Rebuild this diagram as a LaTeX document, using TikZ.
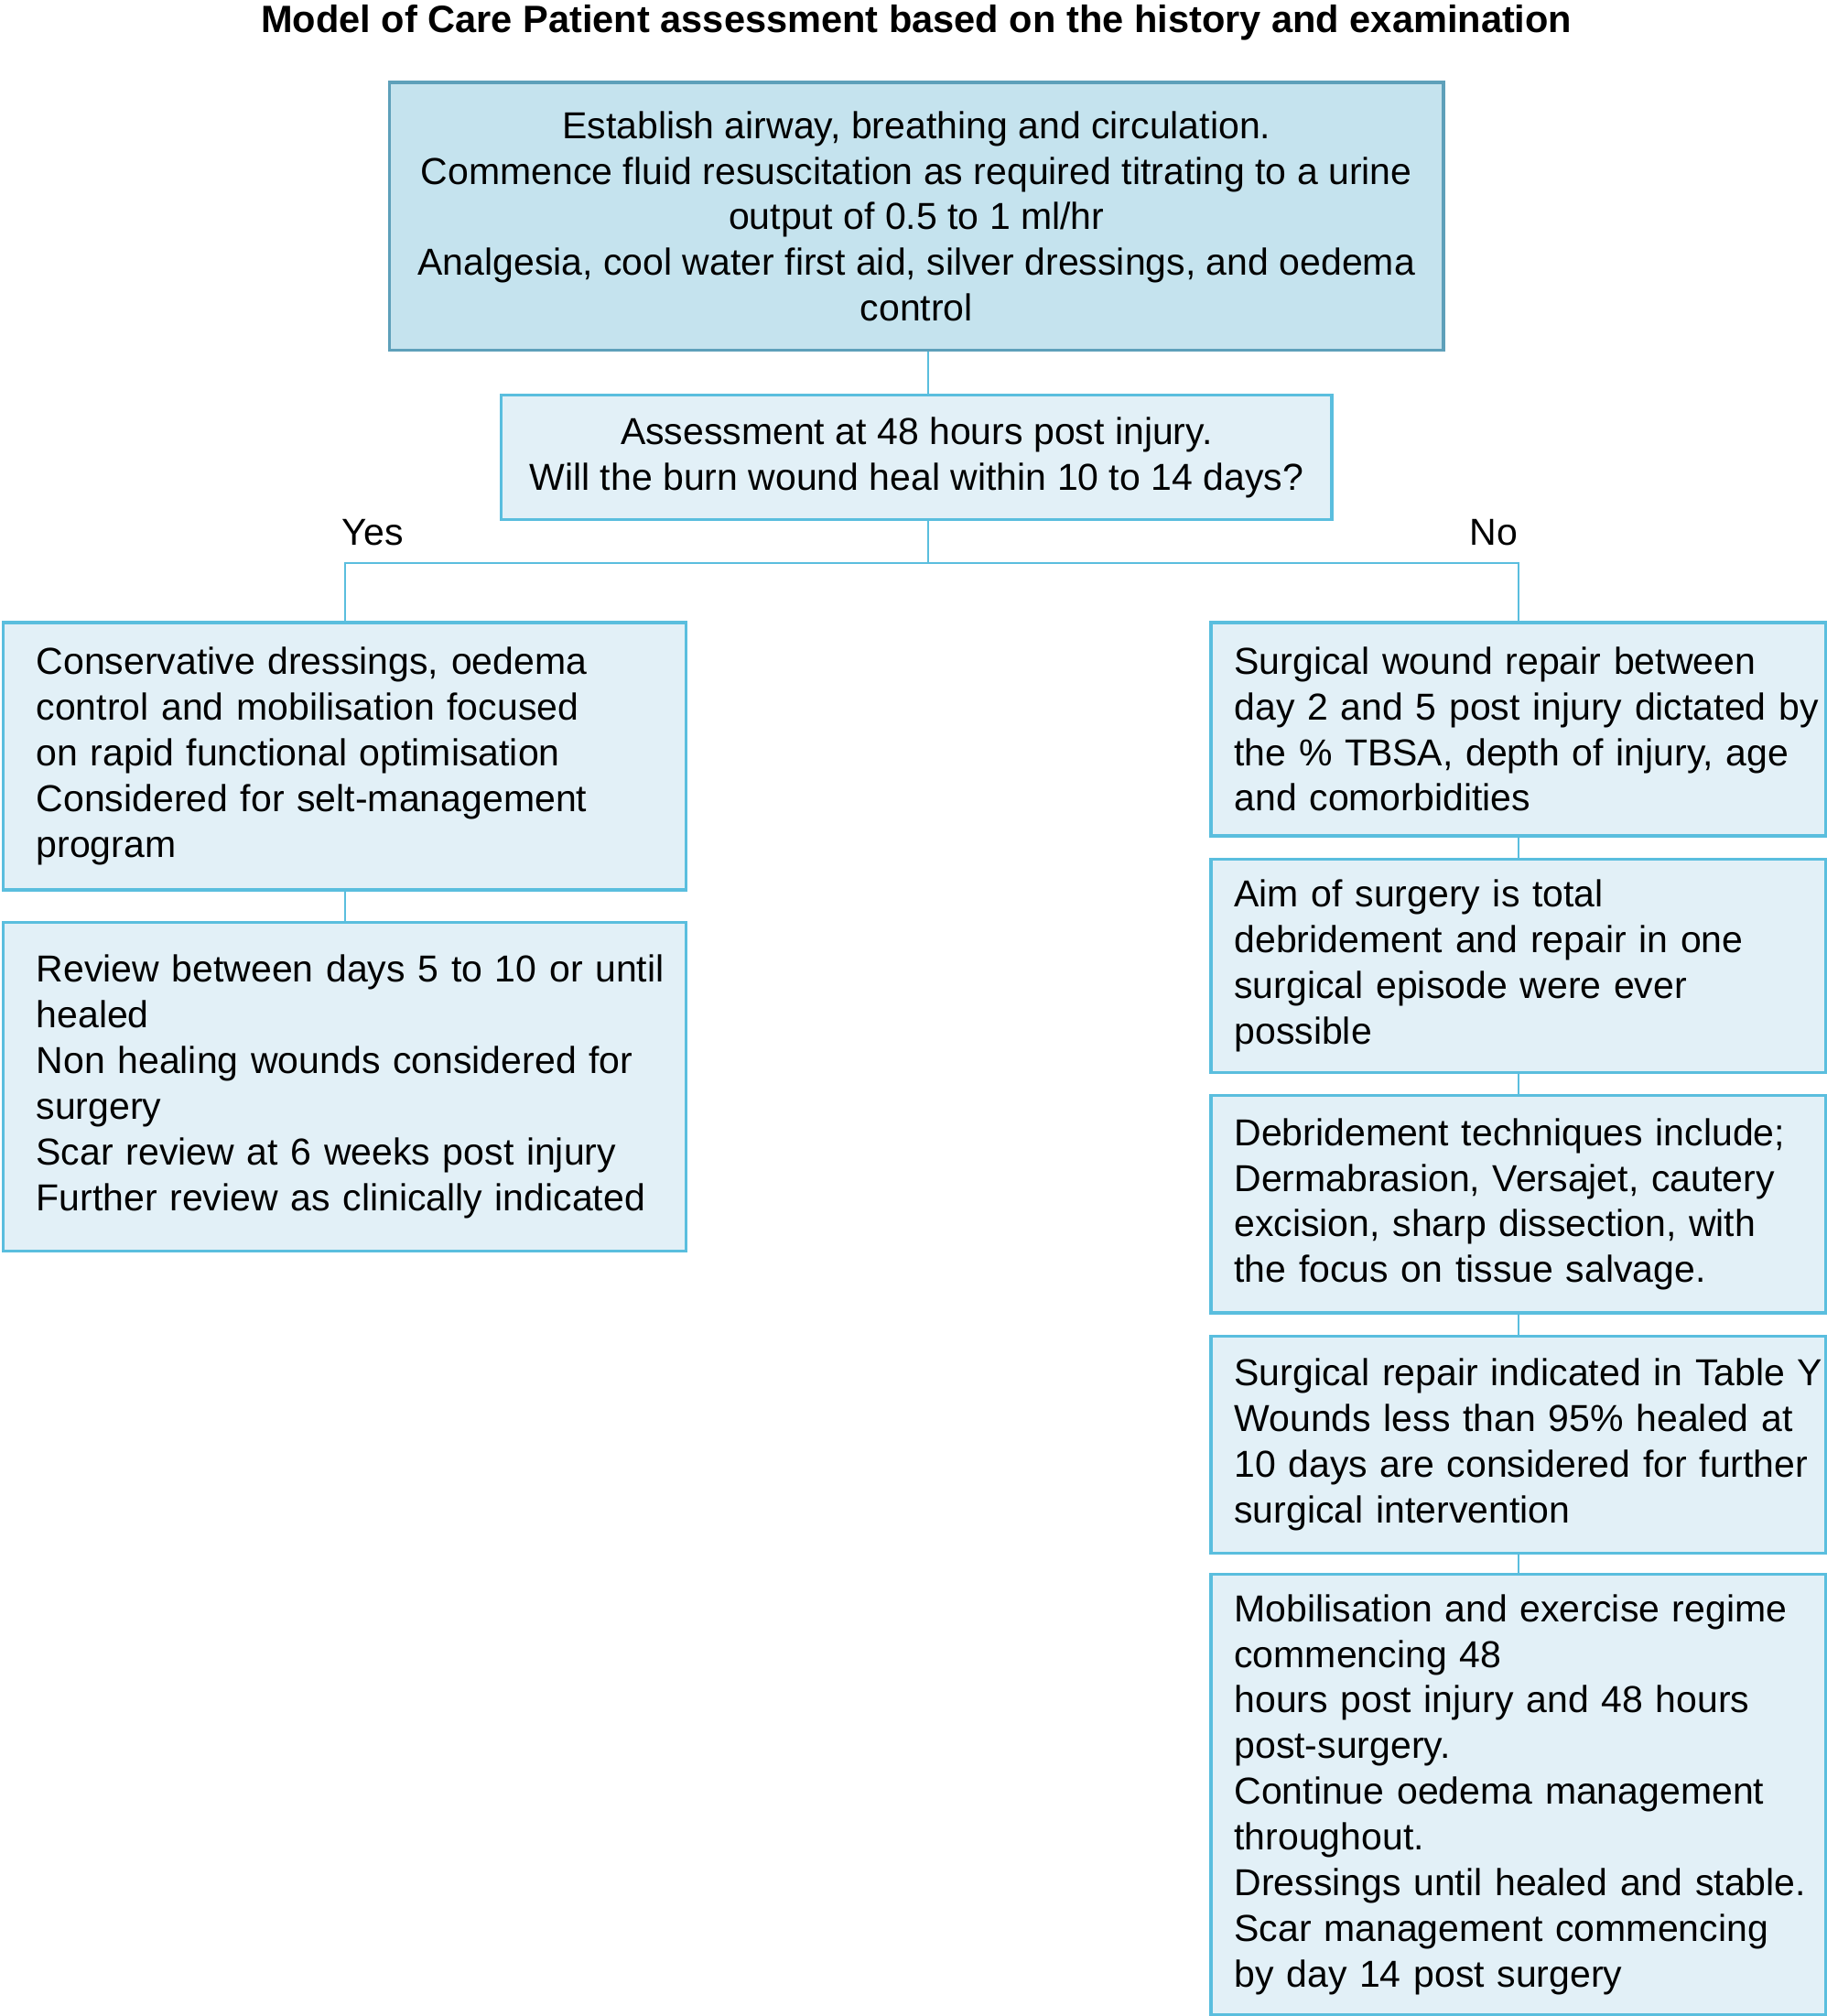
\documentclass[tikz,border=0pt]{standalone}
\usepackage{fontspec}
\setmainfont{Liberation Sans}
\usepackage{xcolor}
\usepackage{tikz}
\usetikzlibrary{positioning,backgrounds}
\definecolor{topfill}{RGB}{197,227,238}
\definecolor{topline}{RGB}{94,160,186}
\definecolor{boxfill}{RGB}{226,240,247}
\definecolor{boxline}{RGB}{90,190,222}
\begin{document}
\begin{tikzpicture}[x=0.5pt,y=-0.5pt,
  card/.style={draw=boxline, fill=boxfill, line width=1.2pt, font=\fontsize{14.6}{17.75}\selectfont},
  topcard/.style={card, draw=topline, fill=topfill, align=center, minimum width=410pt, minimum height=104pt},
  midcard/.style={card, align=center, minimum width=323pt, minimum height=48.5pt},
  yescard/.style={card, align=left, text width=265.5pt, inner xsep=0pt, execute at begin node={\leftskip=12.75pt}},
  nocard/.style={card, align=left, text width=239pt, inner xsep=0pt, execute at begin node={\leftskip=9pt}},
  answer/.style={font=\fontsize{14.6}{17.75}\selectfont, anchor=base},
  link/.style={draw=boxline, line width=0.8pt}]
\useasboundingbox (0,0) rectangle (1421,1568);
\node (Title) [anchor=base, font=\bfseries\fontsize{14.8}{18}\selectfont] at (713,25) {Model of Care Patient assessment based on the history and examination};
\node (Resus) [topcard, anchor=north] at (713,63) {Establish airway, breathing and circulation.\\ Commence fluid resuscitation as required titrating to a urine\\ output of 0.5 to 1 ml/hr\\ Analgesia, cool water first aid, silver dressings, and oedema\\ control};
\node (Assess) [midcard, anchor=north] at (713,306) {Assessment at 48 hours post injury.\\ Will the burn wound heal within 10 to 14 days?};
\coordinate (Fork) at (722,438);
\node (Yes) [answer] at (290,424) {Yes};
\node (No) [answer] at (1162,424) {No};
\node (Conserve) [yescard, minimum height=104pt, anchor=north west] at (1.5,483) {Conservative dressings, oedema\\ control and mobilisation focused\\ on rapid functional optimisation\\ Considered for selt-management\\ program};
\node (Review) [yescard, minimum height=128pt, below=11.3pt of Conserve] {Review between days 5 to 10 or until\\ healed\\ Non healing wounds considered for\\ surgery\\ Scar review at 6 weeks post injury\\ Further review as clinically indicated};
\node (Surgery) [nocard, minimum height=83pt, anchor=north west] at (941,483) {Surgical wound repair between\\ day 2 and 5 post injury dictated by\\ the \% TBSA, depth of injury, age\\ and comorbidities};
\node (Aim) [nocard, minimum height=83pt, below=7.8pt of Surgery] {Aim of surgery is total\\ debridement and repair in one\\ surgical episode were ever\\ possible};
\node (Debride) [nocard, minimum height=84.5pt, below=7.8pt of Aim] {Debridement techniques include;\\ Dermabrasion, Versajet, cautery\\ excision, sharp dissection, with\\ the focus on tissue salvage.};
\node (Repair) [nocard, minimum height=84.5pt, below=7.8pt of Debride] {Surgical repair indicated in Table Y\\ Wounds less than 95\% healed at\\ 10 days are considered for further\\ surgical intervention};
\node (Mobilise) [nocard, minimum height=171.5pt, below=6.8pt of Repair] {Mobilisation and exercise regime\\ commencing 48\\ hours post injury and 48 hours\\ post-surgery.\\ Continue oedema management\\ throughout.\\ Dressings until healed and stable.\\ Scar management commencing\\ by day 14 post surgery};
\draw[link] (Resus.south -| Fork) -- (Assess.north -| Fork);
\draw[link] (Assess.south -| Fork) -- (Fork);
\draw[link] (Fork) -| (Conserve.north);
\draw[link] (Fork) -| (Surgery.north);
\draw[link] (Conserve) -- (Review);
\draw[link] (Surgery) -- (Aim);
\draw[link] (Aim) -- (Debride);
\draw[link] (Debride) -- (Repair);
\draw[link] (Repair) -- (Mobilise);
\end{tikzpicture}
\end{document}
